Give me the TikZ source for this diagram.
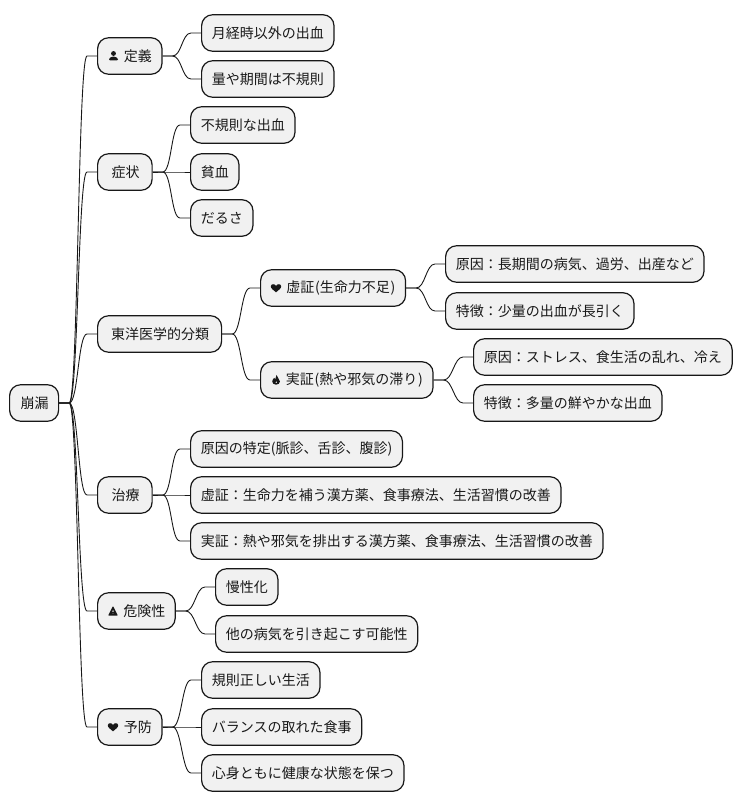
\documentclass[tikz,border=0pt]{standalone}
\usepackage{fontspec}
\setmainfont{Noto Sans CJK JP}
\usetikzlibrary{calc}
\definecolor{boxfill}{HTML}{F1F1F1}
\definecolor{boxline}{HTML}{181818}
\tikzset{
  box/.style={draw=boxline, fill=boxfill, line width=1.2pt, rounded corners=11pt, anchor=west,
    minimum height=36.5pt, inner xsep=10.2pt, inner ysep=0pt, text=black!90,
    font=\fontsize{14pt}{16pt}\selectfont},
  link/.style={draw=boxline, line width=0.9pt, to path={(\tikztostart.east) -- ++(10,0)
    .. controls +(9,0) and +(-9,0) .. ($(\tikztotarget.west)+(-10,0)$) -- (\tikztotarget.west)}},
  iconuser/.pic={\fill[boxline] (0,-2.8) circle (2.7);
    \fill[boxline, rounded corners=1pt] (-5,4.8) -- (-5,2.8) -- (-2,0.8) -- (2,0.8) -- (5,2.8) -- (5,4.8) -- cycle;},
  iconheart/.pic={\fill[boxline] (0,4.8) .. controls (-2,2.8) and (-5.8,0.6) .. (-5.8,-1.6)
    .. controls (-5.8,-4.8) and (-1.4,-5.2) .. (0,-2.2) .. controls (1.4,-5.2) and (5.8,-4.8) .. (5.8,-1.6)
    .. controls (5.8,0.6) and (2,2.8) .. (0,4.8) -- cycle;},
  iconfire/.pic={\fill[boxline, even odd rule] (0.6,-5.6) .. controls (1,-2.6) and (4.4,-1) .. (4.4,1.6)
    .. controls (4.4,3.8) and (2.4,5.2) .. (0,5.2) .. controls (-2.4,5.2) and (-4.2,3.6) .. (-4.2,1.6)
    .. controls (-4.2,-0.2) and (-2.8,-1.2) .. (-2,-2.4) .. controls (-1.6,-1.4) and (-1.2,-1) .. (-0.8,-0.8)
    .. controls (-0.8,-2.4) and (-0.4,-4) .. (0.6,-5.6) -- cycle
    (0.4,1) .. controls (-0.4,1.8) and (-1,2.6) .. (-0.7,3.4) .. controls (-0.3,4.2) and (1,4.2) .. (1.4,3.3)
    .. controls (1.7,2.6) and (0.9,1.8) .. (0.4,1) -- cycle;},
  iconwarn/.pic={\fill[boxline, even odd rule, rounded corners=0.6pt] (0,-5.6) -- (5.4,5) -- (-5.4,5) -- cycle
    (-0.8,-1) -- (0.8,-1) -- (0.6,1.6) -- (-0.6,1.6) -- cycle
    (-0.7,2.3) -- (0.7,2.3) -- (0.7,3.6) -- (-0.7,3.6) -- cycle;}
}
\begin{document}
\begin{tikzpicture}[x=1pt, y=-1pt]
  \useasboundingbox (0,0) rectangle (742,808);
  \node[box, inner xsep=10pt] (root) at (9,403) {\hspace{1pt}崩漏};
  \node[box] (teigi) at (97,56) {\hspace{16pt}定義};
  \node[box] (teigiA) at (201,33) {月経時以外の出血};
  \node[box] (teigiB) at (201,79) {量や期間は不規則};
  \node[box, inner xsep=12.5pt] (shojo) at (97,172) {\hspace{1.5pt}症状};
  \node[box] (shojoA) at (190,125) {不規則な出血};
  \node[box] (shojoB) at (190,172) {貧血};
  \node[box] (shojoC) at (190,218) {だるさ};
  \node[box, inner xsep=12.5pt] (toyo) at (97,334) {\hspace{1pt}東洋医学的分類};
  \node[box] (kyo) at (260,288) {\hspace{15.5pt}虚証\kern0.8pt(生命力不足\kern0.8pt)};
  \node[box] (kyoA) at (445,264) {原因：長期間の病気、過労、出産など};
  \node[box] (kyoB) at (445,311) {特徴：少量の出血が長引く};
  \node[box] (jitsu) at (260,380) {\hspace{15pt}実証\kern0.8pt(熱や邪気の滞り\kern0.8pt)};
  \node[box] (jitsuA) at (473,357) {原因：ストレス、食生活の乱れ、冷え};
  \node[box] (jitsuB) at (473,403) {特徴：多量の鮮やかな出血};
  \node[box, inner xsep=12.5pt] (chiryo) at (97,495) {\hspace{1.5pt}治療};
  \node[box] (chiryoA) at (190,449) {原因の特定(脈診、舌診、腹診)};
  \node[box] (chiryoB) at (190,495) {虚証：生命力を補う漢方薬、食事療法、生活習慣の改善};
  \node[box] (chiryoC) at (190,541) {実証：熱や邪気を排出する漢方薬、食事療法、生活習慣の改善};
  \node[box, inner xsep=9.8pt] (kiken) at (97,611) {\hspace{16pt}危険性};
  \node[box] (kikenA) at (215,587) {慢性化};
  \node[box] (kikenB) at (215,634) {他の病気を引き起こす可能性};
  \node[box] (yobo) at (97,727) {\hspace{16pt}予防};
  \node[box] (yoboA) at (201,680) {規則正しい生活};
  \node[box] (yoboB) at (201,727) {バランスの取れた食事};
  \node[box] (yoboC) at (201,773) {心身ともに健康な状態を保つ};
  \pic[scale=0.9] at ($(teigi.west)+(16.5,0)$) {iconuser};
  \pic[scale=0.9] at ($(kyo.west)+(16,0)$) {iconheart};
  \pic[scale=0.9] at ($(jitsu.west)+(16,0)$) {iconfire};
  \pic[scale=0.9] at ($(kiken.west)+(16,0)$) {iconwarn};
  \pic[scale=0.9] at ($(yobo.west)+(16,0)$) {iconheart};
  \draw[link] (root) to (teigi);
  \draw[link] (root) to (shojo);
  \draw[link] (root) to (toyo);
  \draw[link] (root) to (chiryo);
  \draw[link] (root) to (kiken);
  \draw[link] (root) to (yobo);
  \draw[link] (teigi) to (teigiA);
  \draw[link] (teigi) to (teigiB);
  \draw[link] (shojo) to (shojoA);
  \draw[link] (shojo) to (shojoB);
  \draw[link] (shojo) to (shojoC);
  \draw[link] (toyo) to (kyo);
  \draw[link] (toyo) to (jitsu);
  \draw[link] (kyo) to (kyoA);
  \draw[link] (kyo) to (kyoB);
  \draw[link] (jitsu) to (jitsuA);
  \draw[link] (jitsu) to (jitsuB);
  \draw[link] (chiryo) to (chiryoA);
  \draw[link] (chiryo) to (chiryoB);
  \draw[link] (chiryo) to (chiryoC);
  \draw[link] (kiken) to (kikenA);
  \draw[link] (kiken) to (kikenB);
  \draw[link] (yobo) to (yoboA);
  \draw[link] (yobo) to (yoboB);
  \draw[link] (yobo) to (yoboC);
\end{tikzpicture}
\end{document}
